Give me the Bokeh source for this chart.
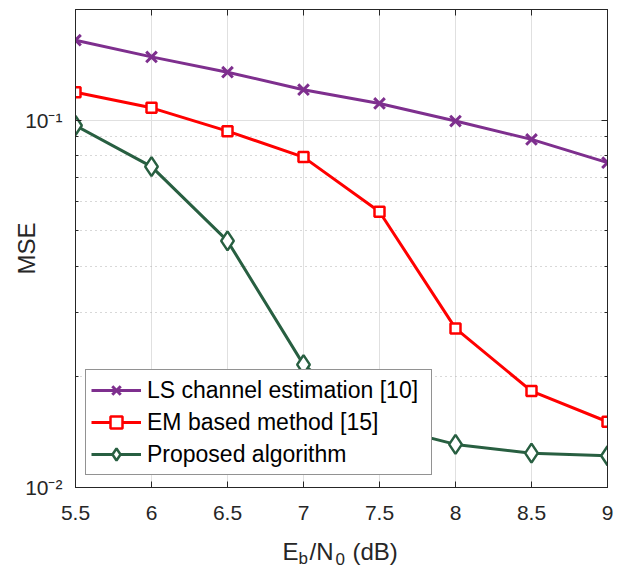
from bokeh.plotting import figure
from bokeh.layouts import column
from bokeh.models import (Range1d, FixedTicker, LinearAxis, LogAxis, Label, CustomJSTickFormatter)
from bokeh.embed import file_html
from bokeh.resources import INLINE

# ---- data ----
ebn0 = [5.5, 6, 6.5, 7, 7.5, 8, 8.5, 9]
mse_ls = [0.165, 0.1486, 0.135, 0.121, 0.111, 0.0994, 0.0886, 0.0766]
mse_em = [0.119, 0.108, 0.0933, 0.0793, 0.0563, 0.0271, 0.0183, 0.0151]
mse_prop = [0.0967, 0.0747, 0.0469, 0.0216, 0.0148, 0.0131, 0.0124, 0.0122]

names = ["LS channel estimation [10]", "EM based method [15]", "Proposed algorithm"]

x_ticks = [5.5, 6, 6.5, 7, 7.5, 8, 8.5, 9]
y_major = [0.01, 0.1]
y_minor = [0.02, 0.03, 0.04, 0.05, 0.06, 0.07, 0.08, 0.09]
y_tick_labels = {0.01: "10\u207b\u00b2", 0.1: "10\u207b\u00b9"}

FONT = "Liberation Sans"
TXT = "#262626"

p = figure(width=624, height=532, y_axis_type="log",
           x_range=Range1d(5.5, 9), y_range=Range1d(0.01, 0.2),
           output_backend="svg", toolbar_location=None,
           min_border_left=75, min_border_right=17, min_border_top=9, min_border_bottom=45)
p.background_fill_color = "white"
p.border_fill_color = "white"
p.outline_line_color = TXT
p.outline_line_width = 1

xt = FixedTicker(ticks=x_ticks, minor_ticks=[])
yt = FixedTicker(ticks=y_major, minor_ticks=y_minor)

p.xaxis.ticker = xt
p.yaxis.ticker = yt
p.yaxis.major_label_overrides = y_tick_labels
for ax in (p.xaxis[0], p.yaxis[0]):
    ax.axis_line_color = TXT
    ax.major_tick_line_color = TXT
    ax.minor_tick_line_color = TXT
    ax.major_tick_in = 6
    ax.major_tick_out = 0
    ax.minor_tick_in = 3
    ax.minor_tick_out = 0
    ax.major_label_text_font = FONT
    ax.major_label_text_font_size = "21px"
    ax.major_label_text_color = TXT
p.xaxis.major_label_standoff = 18
p.yaxis.major_label_standoff = 13

p.yaxis.axis_label = "MSE"
p.yaxis.axis_label_text_font = FONT
p.yaxis.axis_label_text_font_size = "24px"
p.yaxis.axis_label_text_font_style = "normal"
p.yaxis.axis_label_text_color = TXT
p.yaxis.axis_label_standoff = -18

# mirrored axes (box with ticks), labels blank
blank = CustomJSTickFormatter(code="return ''")
top = LinearAxis(ticker=FixedTicker(ticks=x_ticks, minor_ticks=[]), formatter=blank,
                 major_label_text_font_size="1px", major_label_text_color=None,
                 major_label_standoff=0,
                 major_tick_in=6, major_tick_out=0, minor_tick_in=0, minor_tick_out=0,
                 axis_line_color=TXT, major_tick_line_color=TXT)
p.add_layout(top, "above")
right = LogAxis(ticker=FixedTicker(ticks=y_major, minor_ticks=y_minor), formatter=blank,
                major_label_text_font_size="1px", major_label_text_color=None,
                major_label_standoff=0,
                major_tick_in=6, major_tick_out=0, minor_tick_in=3, minor_tick_out=0,
                axis_line_color=TXT, major_tick_line_color=TXT, minor_tick_line_color=TXT)
p.add_layout(right, "right")

# grids
p.xgrid.ticker = xt
p.ygrid.ticker = yt
p.xgrid.grid_line_color = "#e0e0e0"
p.ygrid.grid_line_color = "#e0e0e0"
p.ygrid.minor_grid_line_color = "#b0b0b0"
p.ygrid.minor_grid_line_dash = "1 4"
p.ygrid.minor_grid_line_width = 1

# series
c_ls, c_em, c_pr = "#7E2F8E", "#FF0000", "#285F41"
p.line(ebn0, mse_ls, line_color=c_ls, line_width=3, legend_label=names[0])
p.scatter(ebn0, mse_ls, marker="x", size=15, line_color=c_ls, line_width=3, legend_label=names[0])

p.line(ebn0, mse_em, line_color=c_em, line_width=3, legend_label=names[1])
p.scatter(ebn0, mse_em, marker="square", size=10, line_color=c_em, fill_color="white",
          line_width=2.5, legend_label=names[1])

p.line(ebn0, mse_prop, line_color=c_pr, line_width=3, legend_label=names[2])
p.scatter(ebn0, mse_prop, marker="diamond", size=19, line_color=c_pr, fill_color="white",
          line_width=2.5, legend_label=names[2])

lg = p.legend[0]
lg.location = (10, 12)
lg.margin = 0
lg.padding = 5
lg.spacing = 2
lg.glyph_width = 50
lg.glyph_height = 30
lg.label_height = 30
lg.label_width = 279
lg.label_standoff = 6
lg.label_text_font = FONT
lg.label_text_font_size = "23px"
lg.label_text_color = "black"
lg.border_line_color = TXT
lg.border_line_width = 1
lg.background_fill_color = "white"
lg.background_fill_alpha = 1

# x-axis title strip with subscripts (real text pieces); frame aligned with main plot
p2 = figure(width=624, height=35, x_range=Range1d(0, 532), y_range=Range1d(0, 35),
            output_backend="svg", toolbar_location=None,
            x_axis_location=None, y_axis_location=None,
            min_border_left=75, min_border_right=17, min_border_top=0, min_border_bottom=0)
p2.outline_line_color = None
p2.grid.visible = False
p2.background_fill_color = "white"
p2.border_fill_color = "white"

def lab(text, x, y, size):
    p2.add_layout(Label(x=x, y=y, x_units="screen", y_units="screen", text=text,
                        text_font=FONT, text_font_size=size, text_color=TXT,
                        text_align="left", text_baseline="alphabetic"))

lab("E", 207, 16, "24px")
lab("b", 223, 9, "17px")
lab("/N", 234, 16, "24px")
lab("0", 260, 9, "17px")
lab("(dB)", 277, 16, "24px")

layout = column(p, p2, spacing=0)
open("out.html", "w").write(file_html(layout, INLINE))
